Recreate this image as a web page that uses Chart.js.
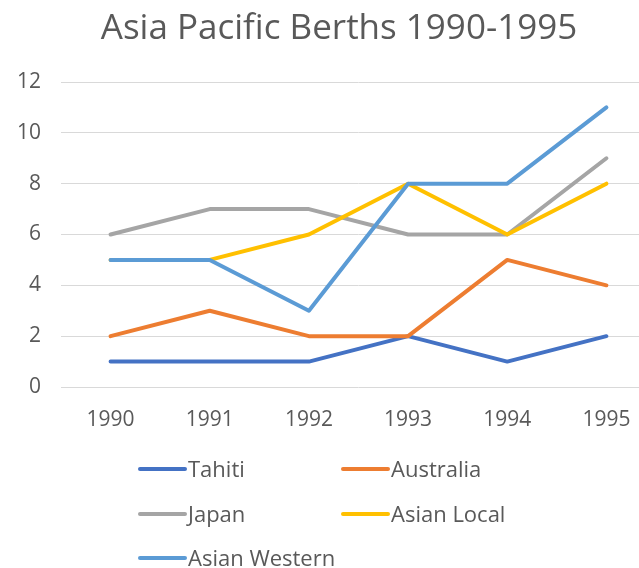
<!DOCTYPE html>
<html>
<head>
<meta charset="utf-8">
<script src="https://cdn.jsdelivr.net/npm/chart.js@4.4.0/dist/chart.umd.min.js"></script>
<style>
html, body { margin: 0; padding: 0; background: #fff; overflow: hidden; }
#wrap { width: 639px; height: 568px; overflow: hidden; }
</style>
</head>
<body>
<div id="wrap"><canvas id="berthChart" width="678" height="568"></canvas></div>
<script>
var years = ["1990", "1991", "1992", "1993", "1994", "1995"];
var tahiti = [1, 1, 1, 2, 1, 2];
var australia = [2, 3, 2, 2, 5, 4];
var japan = [6, 7, 7, 6, 6, 9];
var asianLocal = [5, 5, 6, 8, 6, 8];
var asianWestern = [5, 5, 3, 8, 8, 11];
var seriesNames = ["Tahiti", "Australia", "Japan", "Asian Local", "Asian Western"];
var lineColors = ["#4472C4", "#ED7D31", "#A5A5A5", "#FFC000", "#5B9BD5"];
var chartTitle = "Asia Pacific Berths 1990-1995";

var fontFamily = "'Open Sans', 'Liberation Sans', sans-serif";
var textColor = "#595959";

var seriesValues = [tahiti, australia, japan, asianLocal, asianWestern];
var datasets = seriesValues.map(function (vals, i) {
    return {
        label: seriesNames[i],
        data: vals,
        borderColor: lineColors[i],
        backgroundColor: lineColors[i],
        borderWidth: 4,
        pointRadius: 0,
        tension: 0,
        borderJoinStyle: "round",
        borderCapStyle: "round",
        // later series sit on top, like the spreadsheet
        order: seriesValues.length - i
    };
});

// title + two-column legend, drawn by hand
// (the original chart is wider than the picture, so the title is centred on the full width)
var decorations = {
    id: "decorations",
    afterDraw: function (chart) {
        var ctx = chart.ctx;
        ctx.save();
        ctx.fillStyle = textColor;
        ctx.font = "35px " + fontFamily;
        ctx.textAlign = "center";
        ctx.textBaseline = "alphabetic";
        ctx.fillText(chartTitle, chart.width / 2, 39);

        var colX = [140, 343];
        var rowY = [469, 514, 558];
        ctx.font = "22px " + fontFamily;
        ctx.textAlign = "left";
        chart.data.datasets.forEach(function (ds, i) {
            var x = colX[i % 2];
            var y = rowY[Math.floor(i / 2)];
            ctx.strokeStyle = ds.borderColor;
            ctx.lineWidth = 4;
            ctx.lineCap = "round";
            ctx.beginPath();
            ctx.moveTo(x, y);
            ctx.lineTo(x + 45, y);
            ctx.stroke();
            ctx.fillStyle = textColor;
            ctx.fillText(ds.label, x + 48, y + 8);
        });
        ctx.restore();
    }
};

new Chart("berthChart", {
    type: "line",
    data: {
        labels: years,
        datasets: datasets
    },
    options: {
        responsive: false,
        devicePixelRatio: 1,
        animation: false,
        layout: {
            padding: { top: 82, bottom: 131, left: 0, right: 22 }
        },
        plugins: {
            legend: { display: false },
            title: { display: false },
            tooltip: { enabled: false }
        },
        scales: {
            x: {
                offset: true,
                grid: { display: false, drawTicks: false },
                border: { display: false },
                ticks: {
                    color: textColor,
                    font: { family: fontFamily, size: 21 },
                    padding: 20,
                    maxRotation: 0
                },
                afterFit: function (scale) { scale.height = 50; }
            },
            y: {
                min: 0,
                max: 12,
                grid: { color: "#d9d9d9", lineWidth: 1, drawTicks: false },
                border: { display: false },
                ticks: {
                    stepSize: 2,
                    color: textColor,
                    font: { family: fontFamily, size: 21 },
                    padding: 20
                },
                afterFit: function (scale) { scale.width = 61; }
            }
        }
    },
    plugins: [decorations]
});
</script>
</body>
</html>
